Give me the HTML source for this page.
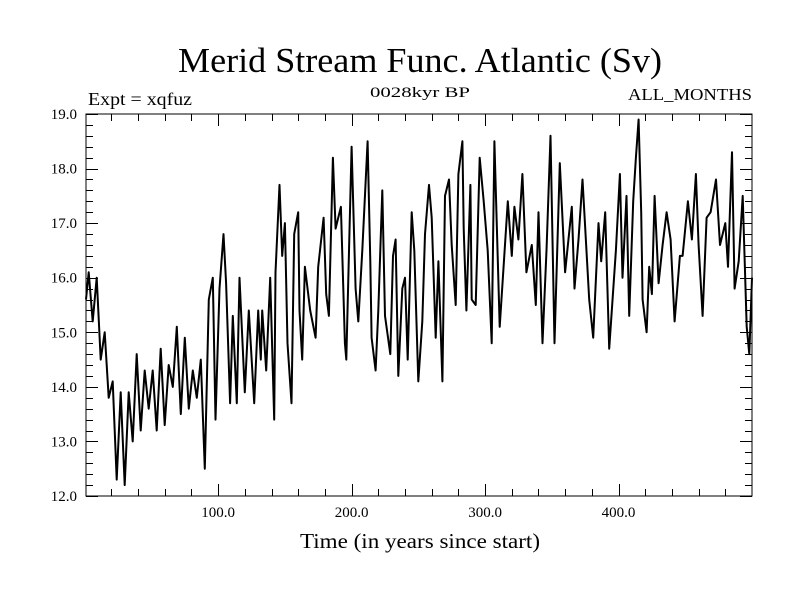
<!DOCTYPE html>
<html><head><meta charset="utf-8"><style>
html,body{margin:0;padding:0;background:#fff;}
svg{display:block;font-family:"Liberation Serif",serif;}
</style></head><body>
<svg id="chart" width="800" height="600" viewBox="0 0 800 600" xmlns="http://www.w3.org/2000/svg">
<rect width="800" height="600" fill="#fff"/>
<text x="420" y="72" font-size="35" text-anchor="middle" textLength="484" lengthAdjust="spacingAndGlyphs">Merid Stream Func. Atlantic (Sv)</text>
<text x="88" y="105" font-size="18" textLength="104" lengthAdjust="spacingAndGlyphs">Expt = xqfuz</text>
<text x="420" y="97" font-size="15" text-anchor="middle" textLength="100" lengthAdjust="spacingAndGlyphs">0028kyr BP</text>
<text x="752" y="100" font-size="17" text-anchor="end" textLength="124" lengthAdjust="spacingAndGlyphs">ALL_MONTHS</text>
<text x="420" y="548" font-size="21" text-anchor="middle" textLength="240" lengthAdjust="spacingAndGlyphs">Time (in years since start)</text>
<g id="axes"></g>
<g id="series"></g>
<rect x="86" y="114" width="666" height="382" fill="none" stroke="#000" stroke-width="1"/>
</svg>
<script>
const years=[0,3,6,9,12,15,18,21,24,27,30,33,36,39,42,45,48,51,54,57,60,63,66,69,72,75,78,81,84,87,90,93,96,98,101,104,106,109,111,114,116,120,123,127,130,132,133,136,139,142,143,146,148,150,152,155,157,160,161,163,165,169,173,175,179,181,183,186,188,192,195,196,200,203,205,208,212,214,215,218,220,223,225,229,231,233,235,238,240,242,245,247,250,253,255,258,260,263,265,268,270,273,275,278,280,283,284,286,289,290,293,296,299,302,305,307,311,317,320,322,325,328,331,335,338,340,343,346,349,352,356,360,365,367,370,373,378,381,385,387,390,393,398,401,403,406,408,411,413,415,417,418,421,423,425,427,430,433,436,439,442,446,448,452,455,458,460,463,466,469,473,476,480,482,485,487,490,493,496,498,500];
const values=[15.6,16.1,15.2,16.0,14.5,15.0,13.8,14.1,12.3,13.9,12.2,13.9,13.0,14.6,13.2,14.3,13.6,14.3,13.2,14.7,13.3,14.4,14.0,15.1,13.5,14.9,13.6,14.3,13.8,14.5,12.5,15.6,16.0,13.4,15.8,16.8,15.9,13.7,15.3,13.7,16.0,13.9,15.4,13.7,15.4,14.5,15.4,14.3,16.0,13.4,16.1,17.7,16.4,17.0,14.8,13.7,16.8,17.2,15.4,14.5,16.2,15.4,14.9,16.2,17.1,15.7,15.3,18.2,16.9,17.3,14.8,14.5,18.4,15.8,15.2,16.5,18.5,16.3,14.9,14.3,15.4,17.6,15.3,14.6,16.4,16.7,14.2,15.8,16.0,14.5,17.2,16.5,14.1,15.2,16.8,17.7,17.1,14.9,16.3,14.1,17.5,17.8,16.6,15.5,17.9,18.5,16.9,15.4,17.7,15.6,15.5,18.2,17.4,16.5,14.8,18.5,15.1,17.4,16.4,17.3,16.7,17.9,16.1,16.6,15.5,17.2,14.8,16.5,18.6,14.8,18.1,16.1,17.3,15.8,16.7,17.8,15.6,14.9,17.0,16.3,17.2,14.7,16.5,17.9,16.0,17.5,15.3,17.4,18.2,18.9,17.2,15.6,15.0,16.2,15.7,17.5,15.9,16.6,17.2,16.7,15.2,16.4,16.4,17.4,16.7,17.9,16.6,15.3,17.1,17.2,17.8,16.6,17.0,16.2,18.3,15.8,16.3,17.5,15.1,14.6,16.0];
const xTickLabels=["100.0","200.0","300.0","400.0"];
const yTickLabels=["12.0","13.0","14.0","15.0","16.0","17.0","18.0","19.0"];
const NS="http://www.w3.org/2000/svg";
const X0=86,X1=752,Y0=114,Y1=496,xmin=1,xmax=500,ymin=12,ymax=19;
function xs(v){return X0+(v-xmin)*(X1-X0)/(xmax-xmin);}
function ys(v){return Y1-(v-ymin)*(Y1-Y0)/(ymax-ymin);}
const axes=document.getElementById('axes');
function line(x1,y1,x2,y2,name){const l=document.createElementNS(NS,'line');l.setAttribute('x1',x1);l.setAttribute('y1',y1);l.setAttribute('x2',x2);l.setAttribute('y2',y2);l.setAttribute('stroke','#000');l.setAttribute('stroke-width','1');


axes.appendChild(l);}
function txt(x,y,s,anchor,name){const t=document.createElementNS(NS,'text');t.setAttribute('x',x);t.setAttribute('y',y);t.setAttribute('font-size','15');t.setAttribute('text-anchor',anchor);t.textContent=s;


axes.appendChild(t);}
for(let yr=20;yr<500;yr+=20){const x=Math.round(xs(yr))+0.5;const L=(yr%100===0)?12:7;
line(x,Y1,x,Y1-L,'x-tick');
line(x,Y0,x,Y0+L,'x-tick-top');}
xTickLabels.forEach(s=>{txt(xs(parseFloat(s)),517,s,'middle','x-tick-label');});
for(let k=0;k<=35;k++){const v=12+k*0.2;const y=Math.round(ys(v))+0.5;const major=(k%5===0);const L=major?12:7;
line(X0,y,X0+L,y,'y-tick');
line(X1,y,X1-L,y,'y-tick-right');}
yTickLabels.forEach(s=>{txt(77,ys(parseFloat(s))+5,s,'end','y-tick-label');});
const series=document.getElementById('series');
const p=document.createElementNS(NS,'polyline');
p.setAttribute('points',years.map((yr,i)=>xs(Math.max(xmin,Math.min(xmax,yr))).toFixed(1)+','+ys(values[i]).toFixed(1)).join(' '));
p.setAttribute('fill','none');p.setAttribute('stroke','#000');p.setAttribute('stroke-width','2');p.setAttribute('stroke-linejoin','round');


series.appendChild(p);
</script>
</body></html>
